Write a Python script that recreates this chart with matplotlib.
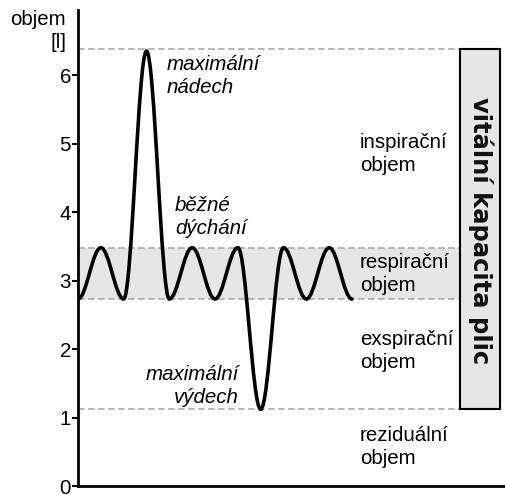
import matplotlib.pyplot as plt
from matplotlib.path import Path
from matplotlib.patches import PathPatch, Rectangle

plt.rcParams['font.family'] = ['Liberation Sans', 'DejaVu Sans']

# extrema of the breathing curve (volume in litres), one per half breath
breath_vals = [2.73, 3.48, 2.73, 6.35, 2.73, 3.48, 2.73, 3.48, 1.12, 3.48, 2.73, 3.48, 2.73]
breath_t = list(range(len(breath_vals)))

# levels of the dashed guide lines
level_max = 6.38
level_tidal_top = 3.48
level_tidal_bot = 2.73
level_min = 1.12

yticks = [0, 1, 2, 3, 4, 5, 6]

volume_labels = ["inspirační\nobjem", "respirační\nobjem", "exspirační\nobjem", "reziduální\nobjem"]
volume_label_y = [4.85, 3.1, 1.97, 0.57]

fs = 14.8

fig = plt.figure(figsize=(5.05, 4.95), dpi=100)
ax = fig.add_axes([78 / 505, 9 / 495, 427 / 505, 476 / 495])
ax.set_xlim(0, 18.7)
ax.set_ylim(0, 6.95)

box_left = 16.73
box_right = 18.48

# shaded tidal band and dashed guides
ax.fill_between([0, box_left], level_tidal_bot, level_tidal_top, color='#e6e6e6', lw=0, zorder=1)
ax.hlines([level_max, level_tidal_top, level_tidal_bot, level_min], 0, box_left,
          colors='#aaaaaa', linestyles=(0, (4, 2)), lw=1.2, zorder=2)

# smooth curve through the extrema with cubic Bezier segments
verts = [(breath_t[0], breath_vals[0])]
codes = [Path.MOVETO]
for i in range(len(breath_vals) - 1):
    t0, t1 = breath_t[i], breath_t[i + 1]
    h = 0.364 * (t1 - t0)
    verts += [(t0 + h, breath_vals[i]), (t1 - h, breath_vals[i + 1]), (t1, breath_vals[i + 1])]
    codes += [Path.CURVE4] * 3
ax.add_patch(PathPatch(Path(verts, codes), fill=False, lw=2.6, color='black',
                       capstyle='round', joinstyle='round', zorder=3))

# vital capacity box
ax.add_patch(Rectangle((box_left, level_min), box_right - box_left, level_max - level_min,
                       facecolor='#e6e6e6', edgecolor='black', lw=1.5, zorder=4))
ax.text((box_left + box_right) / 2 + 0.02, 3.73, "vitální kapacita plic",
        rotation=-90, ha='center', va='center', fontsize=17.5, fontweight='bold',
        family=['DejaVu Sans'], color='#111111', zorder=5)

# annotations
ax.text(3.9, 5.99, "maximální\nnádech", style='italic', fontsize=fs, ha='left', va='center',
        linespacing=1.25)
ax.text(4.25, 3.93, "běžné\ndýchání", style='italic', fontsize=fs, ha='left', va='center',
        linespacing=1.25)
ax.text(7.05, 1.46, "maximální\nvýdech", style='italic', fontsize=fs, ha='right', va='center',
        linespacing=1.25, multialignment='right')
for lab, y in zip(volume_labels, volume_label_y):
    ax.text(12.35, y, lab, fontsize=fs, ha='left', va='center', linespacing=1.25)

# axes styling
for s in ['top', 'right']:
    ax.spines[s].set_visible(False)
ax.spines['left'].set_linewidth(2)
ax.spines['bottom'].set_linewidth(2)
ax.set_xticks([])
ax.set_yticks(yticks)
ax.tick_params(axis='y', length=4, width=1.5, labelsize=fs, pad=1)

fig.text(66 / 505, 1 - 31 / 495, "objem\n[l]", ha='right', va='center', fontsize=fs,
         multialignment='right', linespacing=1.25)

fig.savefig('out.png', dpi=100)
